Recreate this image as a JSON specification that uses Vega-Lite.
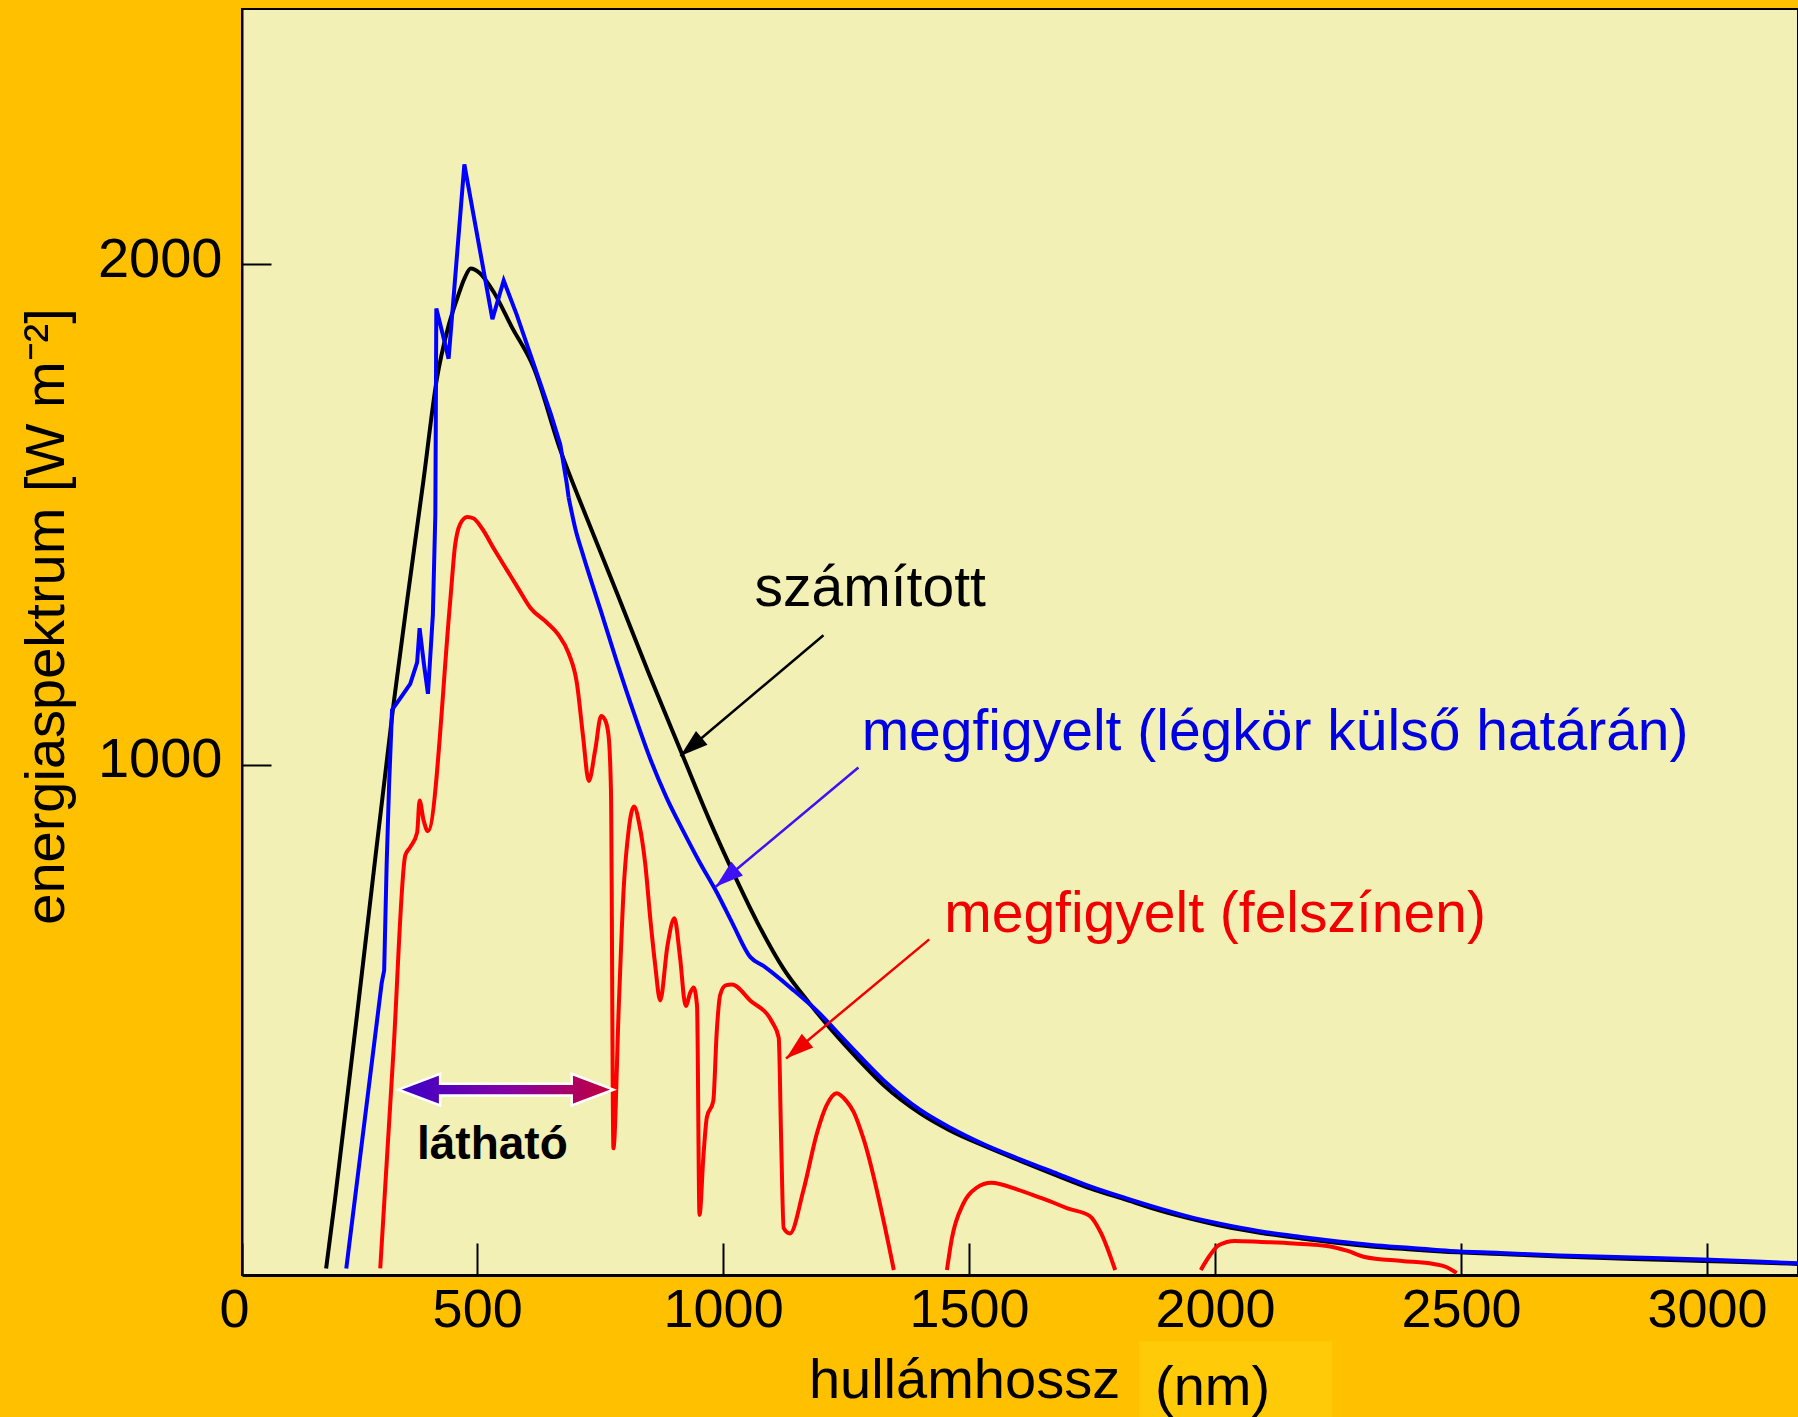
{
  "$schema": "https://vega.github.io/schema/vega-lite/v6.json",
  "width": 1556,
  "height": 1266,
  "autosize": {"type": "none"},
  "padding": {"left": 242, "top": 9, "right": 0, "bottom": 142},
  "background": "#FFC000",
  "config": {
    "font": "Liberation Sans",
    "view": {"fill": "#F2F0B4", "stroke": "#000000", "strokeWidth": 2}
  },
  "datasets": {
    "calc": [
      {"nm": 193, "W": -5}, {"nm": 211, "W": 132}, {"nm": 274, "W": 654}, {"nm": 330, "W": 1121},
      {"nm": 360, "W": 1345}, {"nm": 391, "W": 1569}, {"nm": 418, "W": 1770}, {"nm": 440, "W": 1870},
      {"nm": 459, "W": 1930}, {"nm": 475, "W": 1973}, {"nm": 487, "W": 1991}, {"nm": 505, "W": 1982},
      {"nm": 533, "W": 1945}, {"nm": 570, "W": 1875}, {"nm": 615, "W": 1793}, {"nm": 669, "W": 1629},
      {"nm": 720, "W": 1500}, {"nm": 784, "W": 1344}, {"nm": 850, "W": 1180}, {"nm": 919, "W": 1016},
      {"nm": 970, "W": 895}, {"nm": 1021, "W": 784}, {"nm": 1070, "W": 685}, {"nm": 1123, "W": 593},
      {"nm": 1175, "W": 525}, {"nm": 1224, "W": 467}, {"nm": 1275, "W": 412}, {"nm": 1326, "W": 361},
      {"nm": 1400, "W": 305}, {"nm": 1462, "W": 270}, {"nm": 1530, "W": 240}, {"nm": 1604, "W": 210},
      {"nm": 1680, "W": 180}, {"nm": 1746, "W": 155}, {"nm": 1820, "W": 132}, {"nm": 1890, "W": 110},
      {"nm": 1960, "W": 92}, {"nm": 2032, "W": 76}, {"nm": 2100, "W": 65}, {"nm": 2175, "W": 55},
      {"nm": 2250, "W": 46}, {"nm": 2318, "W": 39}, {"nm": 2400, "W": 33}, {"nm": 2460, "W": 29},
      {"nm": 2580, "W": 24}, {"nm": 2700, "W": 19}, {"nm": 2850, "W": 14}, {"nm": 2993, "W": 10},
      {"nm": 3100, "W": 7}, {"nm": 3190, "W": 4}
    ],
    "topPeak": [
      {"nm": 234, "W": -5}, {"nm": 306, "W": 565}, {"nm": 311, "W": 590}, {"nm": 316, "W": 800},
      {"nm": 321, "W": 960}, {"nm": 327, "W": 1110}, {"nm": 345, "W": 1135}, {"nm": 364, "W": 1162},
      {"nm": 378, "W": 1205}, {"nm": 383, "W": 1273}, {"nm": 392, "W": 1200}, {"nm": 400, "W": 1142},
      {"nm": 410, "W": 1300}, {"nm": 415, "W": 1500}, {"nm": 416, "W": 1700}, {"nm": 417, "W": 1911},
      {"nm": 430, "W": 1860}, {"nm": 442, "W": 1811}, {"nm": 474, "W": 2199}, {"nm": 531, "W": 1890},
      {"nm": 554, "W": 1967}, {"nm": 580, "W": 1900}, {"nm": 615, "W": 1800}, {"nm": 650, "W": 1700},
      {"nm": 669, "W": 1640}, {"nm": 682, "W": 1563}, {"nm": 686, "W": 1534}
    ],
    "topTail": [
      {"nm": 686, "W": 1534}, {"nm": 700, "W": 1470}, {"nm": 716, "W": 1417}, {"nm": 750, "W": 1312},
      {"nm": 784, "W": 1206}, {"nm": 820, "W": 1100}, {"nm": 852, "W": 1012}, {"nm": 885, "W": 935},
      {"nm": 919, "W": 868}, {"nm": 950, "W": 810}, {"nm": 987, "W": 746}, {"nm": 1020, "W": 682},
      {"nm": 1055, "W": 617}, {"nm": 1082, "W": 599}, {"nm": 1140, "W": 553}, {"nm": 1191, "W": 509},
      {"nm": 1250, "W": 448}, {"nm": 1326, "W": 371}, {"nm": 1400, "W": 312}, {"nm": 1462, "W": 276},
      {"nm": 1530, "W": 243}, {"nm": 1604, "W": 213}, {"nm": 1680, "W": 184}, {"nm": 1746, "W": 159},
      {"nm": 1820, "W": 135}, {"nm": 1890, "W": 114}, {"nm": 1960, "W": 95}, {"nm": 2032, "W": 80},
      {"nm": 2100, "W": 68}, {"nm": 2175, "W": 58}, {"nm": 2250, "W": 49}, {"nm": 2318, "W": 42},
      {"nm": 2400, "W": 36}, {"nm": 2478, "W": 30}, {"nm": 2580, "W": 26}, {"nm": 2700, "W": 21},
      {"nm": 2850, "W": 17}, {"nm": 2993, "W": 13}, {"nm": 3100, "W": 9}, {"nm": 3190, "W": 5}
    ],
    "surf": [
      {"seg": 1, "nm": 303, "W": -5}, {"seg": 1, "nm": 330, "W": 430}, {"seg": 1, "nm": 354, "W": 820},
      {"seg": 1, "nm": 364, "W": 836}, {"seg": 1, "nm": 378, "W": 865}, {"seg": 1, "nm": 383, "W": 929},
      {"seg": 1, "nm": 391, "W": 890}, {"seg": 1, "nm": 400, "W": 868}, {"seg": 1, "nm": 445, "W": 1324},
      {"seg": 1, "nm": 455, "W": 1437}, {"seg": 1, "nm": 465, "W": 1480}, {"seg": 1, "nm": 480, "W": 1495},
      {"seg": 1, "nm": 493, "W": 1492}, {"seg": 1, "nm": 510, "W": 1472}, {"seg": 1, "nm": 535, "W": 1430},
      {"seg": 1, "nm": 560, "W": 1390}, {"seg": 1, "nm": 585, "W": 1350}, {"seg": 1, "nm": 608, "W": 1314},
      {"seg": 1, "nm": 642, "W": 1284}, {"seg": 1, "nm": 665, "W": 1260}, {"seg": 1, "nm": 686, "W": 1223},
      {"seg": 1, "nm": 703, "W": 1162}, {"seg": 1, "nm": 715, "W": 1060}, {"seg": 1, "nm": 727, "W": 968},
      {"seg": 1, "nm": 740, "W": 1030}, {"seg": 1, "nm": 752, "W": 1098}, {"seg": 1, "nm": 760, "W": 1090},
      {"seg": 1, "nm": 767, "W": 1060}, {"seg": 1, "nm": 772, "W": 950}, {"seg": 1, "nm": 777, "W": 235},
      {"seg": 1, "nm": 788, "W": 520}, {"seg": 1, "nm": 798, "W": 755}, {"seg": 1, "nm": 808, "W": 870},
      {"seg": 1, "nm": 819, "W": 917}, {"seg": 1, "nm": 830, "W": 880}, {"seg": 1, "nm": 842, "W": 800},
      {"seg": 1, "nm": 852, "W": 693}, {"seg": 1, "nm": 862, "W": 600}, {"seg": 1, "nm": 872, "W": 530},
      {"seg": 1, "nm": 887, "W": 640}, {"seg": 1, "nm": 901, "W": 694}, {"seg": 1, "nm": 912, "W": 620},
      {"seg": 1, "nm": 924, "W": 519}, {"seg": 1, "nm": 933, "W": 545}, {"seg": 1, "nm": 940, "W": 556},
      {"seg": 1, "nm": 947, "W": 519}, {"seg": 1, "nm": 952, "W": 102}, {"seg": 1, "nm": 960, "W": 220},
      {"seg": 1, "nm": 967, "W": 297}, {"seg": 1, "nm": 980, "W": 329}, {"seg": 1, "nm": 987, "W": 467},
      {"seg": 1, "nm": 994, "W": 541}, {"seg": 1, "nm": 1005, "W": 560}, {"seg": 1, "nm": 1018, "W": 562},
      {"seg": 1, "nm": 1055, "W": 530}, {"seg": 1, "nm": 1099, "W": 488}, {"seg": 1, "nm": 1113, "W": 456},
      {"seg": 1, "nm": 1118, "W": 250}, {"seg": 1, "nm": 1123, "W": 76}, {"seg": 1, "nm": 1136, "W": 65},
      {"seg": 1, "nm": 1163, "W": 150}, {"seg": 1, "nm": 1191, "W": 266}, {"seg": 1, "nm": 1210, "W": 320},
      {"seg": 1, "nm": 1231, "W": 345}, {"seg": 1, "nm": 1250, "W": 330}, {"seg": 1, "nm": 1265, "W": 308},
      {"seg": 1, "nm": 1285, "W": 255}, {"seg": 1, "nm": 1347, "W": -8},
      {"seg": 2, "nm": 1455, "W": -8}, {"seg": 2, "nm": 1465, "W": 55}, {"seg": 2, "nm": 1488, "W": 124},
      {"seg": 2, "nm": 1515, "W": 156}, {"seg": 2, "nm": 1545, "W": 166}, {"seg": 2, "nm": 1600, "W": 152},
      {"seg": 2, "nm": 1640, "W": 138}, {"seg": 2, "nm": 1665, "W": 129}, {"seg": 2, "nm": 1700, "W": 115},
      {"seg": 2, "nm": 1745, "W": 100}, {"seg": 2, "nm": 1768, "W": 66}, {"seg": 2, "nm": 1797, "W": -8},
      {"seg": 3, "nm": 1971, "W": -8}, {"seg": 3, "nm": 1990, "W": 22}, {"seg": 3, "nm": 2008, "W": 42},
      {"seg": 3, "nm": 2040, "W": 50}, {"seg": 3, "nm": 2094, "W": 48}, {"seg": 3, "nm": 2160, "W": 45},
      {"seg": 3, "nm": 2234, "W": 39}, {"seg": 3, "nm": 2270, "W": 30}, {"seg": 3, "nm": 2304, "W": 18},
      {"seg": 3, "nm": 2380, "W": 10}, {"seg": 3, "nm": 2444, "W": 4}, {"seg": 3, "nm": 2470, "W": -2},
      {"seg": 3, "nm": 2491, "W": -14}
    ],
    "arrows": [
      {"ann": "a_calc", "nm": 913, "W": 1018, "nm2": 1204, "W2": 1259},
      {"ann": "a_top", "nm": 985, "W": 757, "nm2": 1275, "W2": 995},
      {"ann": "a_surf", "nm": 1128, "W": 414, "nm2": 1419, "W2": 652}
    ],
    "labels": [
      {"ann": "calc", "nm": 1299, "W": 1318, "text": "számított"},
      {"ann": "top", "nm": 2122, "W": 1030, "text": "megfigyelt (légkör külső határán)"},
      {"ann": "surf", "nm": 2000, "W": 667, "text": "megfigyelt (felszínen)"}
    ],
    "visible": [{"nm": 558.5, "W": 352}],
    "vislabel": [{"nm": 531, "W": 214, "text": "látható"}],
    "unit": [{"nm": 1995, "W": -277, "text": "(nm)"}],
    "box": [{"nm": 1846, "nm2": 2238, "W": -150, "W2": -330}]
  },
  "encoding": {
    "x": {
      "field": "nm", "type": "quantitative",
      "scale": {"domain": [22, 3185], "nice": false, "zero": false},
      "axis": {
        "title": "hullámhossz", "titleFontSize": 56, "titleFontWeight": "normal", "titleColor": "#000000",
        "titleX": 722, "titleY": 122, "titleBaseline": "alphabetic", "titleAlign": "center",
        "values": [22, 500, 1000, 1500, 2000, 2500, 3000],
        "labelExpr": "datum.value < 100 ? '0' : datum.label",
        "format": "d", "labelFontSize": 54, "labelColor": "#000000", "labelPadding": 40,
        "labelFlush": false, "labelOverlap": false,
        "labelOffset": {"condition": {"test": "datum.value < 100", "value": -8}, "value": 0},
        "tickSize": -32, "tickWidth": 2, "tickColor": "#000000",
        "domainColor": "#000000", "domainWidth": 3, "grid": false
      }
    },
    "y": {
      "field": "W", "type": "quantitative",
      "scale": {"domain": [-18, 2509], "nice": false, "zero": false},
      "axis": {
        "title": "energiaspektrum [W m⁻²]", "titleFontSize": 56, "titleFontWeight": "normal", "titleColor": "#000000",
        "titleX": -196, "titleY": 607, "titleAngle": -90, "titleAlign": "center", "titleBaseline": "middle",
        "values": [1000, 2000], "format": "d", "labelFontSize": 56, "labelColor": "#000000", "labelPadding": 49,
        "labelOffset": -5,
        "tickSize": -29, "tickWidth": 2, "tickColor": "#000000",
        "domainColor": "#000000", "domainWidth": 2, "grid": false
      }
    }
  },
  "layer": [
    {
      "data": {"name": "box"},
      "mark": {"type": "rect", "color": "#FFCA08", "clip": false},
      "encoding": {"x2": {"field": "nm2"}, "y2": {"field": "W2"}}
    },
    {
      "data": {"name": "calc"},
      "mark": {"type": "line", "color": "#000000", "strokeWidth": 4, "interpolate": "monotone", "clip": true}
    },
    {
      "data": {"name": "topPeak"},
      "mark": {"type": "line", "color": "#0000FF", "strokeWidth": 4, "clip": true}
    },
    {
      "data": {"name": "topTail"},
      "mark": {"type": "line", "color": "#0000FF", "strokeWidth": 4, "interpolate": "monotone", "clip": true}
    },
    {
      "data": {"name": "surf"},
      "mark": {"type": "line", "color": "#FF0000", "strokeWidth": 4, "interpolate": "monotone", "clip": true},
      "encoding": {"detail": {"field": "seg", "type": "nominal"}}
    },
    {
      "data": {"name": "arrows"},
      "mark": {"type": "rule", "strokeWidth": 2.5},
      "encoding": {
        "x2": {"field": "nm2"}, "y2": {"field": "W2"},
        "color": {
          "field": "ann", "type": "nominal", "legend": null,
          "scale": {
            "domain": ["calc", "top", "surf", "a_calc", "a_top", "a_surf"],
            "range": ["#000000", "#0000E0", "#F00000", "#000000", "#3F10F5", "#F00000"]
          }
        }
      }
    },
    {
      "data": {"name": "arrows"},
      "mark": {"type": "point", "shape": "M 0 0 L -0.32 1 L 0.32 1 Z", "size": 3136, "angle": 230, "filled": true, "opacity": 1},
      "encoding": {"color": {"field": "ann", "type": "nominal", "legend": null}}
    },
    {
      "data": {"name": "visible"},
      "mark": {
        "type": "point",
        "shape": "M -1 0 L -0.612 -0.147 L -0.612 -0.054 L 0.612 -0.054 L 0.612 -0.147 L 1 0 L 0.612 0.147 L 0.612 0.054 L -0.612 0.054 L -0.612 0.147 Z",
        "size": 46225, "filled": true, "opacity": 1,
        "fill": {"gradient": "linear", "x1": 0, "y1": 0, "x2": 1, "y2": 0,
          "stops": [{"offset": 0, "color": "#3A00C8"}, {"offset": 0.5, "color": "#8400A4"}, {"offset": 1, "color": "#C4003A"}]},
        "stroke": "#FFFFFF", "strokeWidth": 2.5
      }
    },
    {
      "data": {"name": "labels"},
      "mark": {"type": "text", "fontSize": 57, "align": "center", "baseline": "alphabetic"},
      "encoding": {"text": {"field": "text"}, "color": {"field": "ann", "type": "nominal", "legend": null}}
    },
    {
      "data": {"name": "vislabel"},
      "mark": {"type": "text", "fontSize": 46, "fontWeight": "bold", "align": "center", "baseline": "alphabetic", "color": "#000000"},
      "encoding": {"text": {"field": "text"}}
    },
    {
      "data": {"name": "unit"},
      "mark": {"type": "text", "fontSize": 56, "align": "center", "baseline": "alphabetic", "color": "#000000"},
      "encoding": {"text": {"field": "text"}}
    }
  ]
}
